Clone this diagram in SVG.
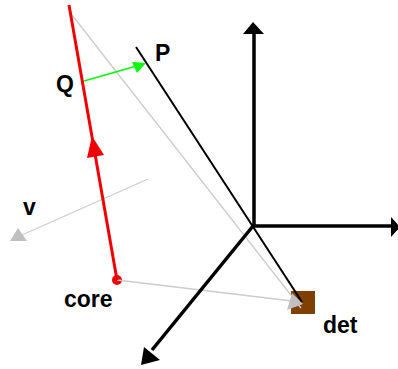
<svg xmlns="http://www.w3.org/2000/svg" width="398" height="369" viewBox="0 0 398 369">
<style>
text{font-family:"Liberation Sans",Arial,sans-serif;font-weight:bold;font-size:23px;fill:#000}
.g{stroke:#cccccc;stroke-width:1.3;fill:none}
.gh{fill:#c0c0c0}
.k{stroke:#000;fill:none}
</style>
<rect width="398" height="369" fill="#fff"/>
<g id="detector"><rect x="291" y="291" width="24" height="23" fill="#804000"/><text x="323" y="333">det</text></g>
<g id="core"><circle cx="117" cy="280" r="5" fill="#f00000"/><text x="64" y="307">core</text></g>
<g id="labels"><text x="56" y="92">Q</text><text x="155" y="61">P</text><text x="23" y="215">v</text></g>
<g id="connectors">
<path class="g" d="M72 15L301 308"/>
<path class="g" d="M117 280L292 301"/>
<path class="g" d="M148 179L22 235"/>
<path class="gh" d="M303 304L287 310L292 293Z"/>
<path class="gh" d="M18 228L27 241L10 241Z"/>
<path class="k" stroke-width="2" d="M136 47L302 302"/>
<path stroke="#f00000" stroke-width="3" fill="none" d="M69 5L117 280"/>
<path fill="#f00000" d="M92 136L104 155L87 158Z"/>
<path stroke="#00ff00" stroke-width="1.5" fill="none" d="M84 81L140 65"/>
<path fill="#00ff00" d="M146 63L137 73L132 62Z"/>
<path class="k" stroke-width="3.5" d="M254 226V33"/>
<path d="M253 22L264 34H243Z"/>
<path class="k" stroke-width="3.5" d="M253 226H393"/>
<path d="M400 227L391 217V237Z"/>
<path class="k" stroke-width="3.5" d="M253 226L152 350"/>
<path d="M141 365L144 347L160 360Z"/>
</g>
</svg>
